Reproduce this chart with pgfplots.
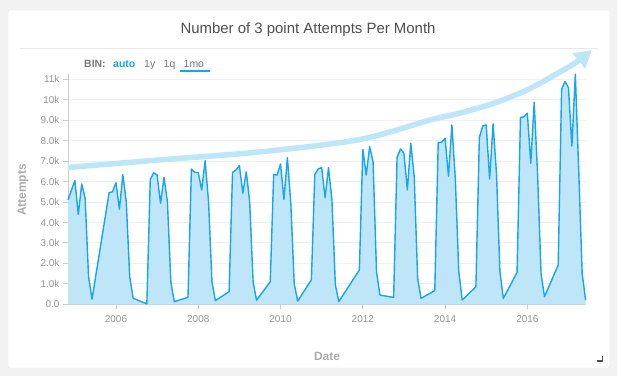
\documentclass[border=0pt]{standalone}
\usepackage{fontspec}
\setmainfont{Liberation Sans}
\usepackage{pgfplots}
\usepackage{pgfplotstable}
\pgfplotsset{compat=1.18}
\usetikzlibrary{arrows.meta}
\definecolor{bg}{HTML}{F2F2F2}
\definecolor{lineblue}{HTML}{17A5EC}
\definecolor{fillblue}{HTML}{BEE5F8}
\definecolor{arrowblue}{HTML}{BEE6F9}
\definecolor{ticklab}{HTML}{969696}
\definecolor{axgray}{HTML}{CCCCCC}
\definecolor{gridgray}{HTML}{F0F0F0}
\definecolor{titlegray}{HTML}{4F4F4F}
\definecolor{labgray}{HTML}{ABABAB}
\definecolor{bingray}{HTML}{7A7A7A}
\pgfplotstableread{
m v
58 5.10
59 5.58
60 6.05
61 4.40
62 5.88
63 5.18
64 1.35
65 0.25
70 5.46
71 5.50
72 5.95
73 4.65
74 6.34
75 5.00
76 1.35
77 0.30
81 0.02
82 6.10
83 6.43
84 6.32
85 4.94
86 6.20
87 5.02
88 1.10
89 0.13
93 0.34
94 6.62
95 6.45
96 6.44
97 5.59
98 7.02
99 5.02
100 1.10
101 0.18
105 0.62
106 6.45
107 6.57
108 6.78
109 5.43
110 6.48
111 5.02
112 1.10
113 0.20
117 1.10
118 6.35
119 6.32
120 6.86
121 5.13
122 7.17
123 4.94
124 0.99
125 0.16
129 1.19
130 6.35
131 6.62
132 6.68
133 5.21
134 6.68
135 5.10
136 0.94
137 0.13
143 1.68
144 7.57
145 6.32
146 7.71
147 6.97
148 1.60
149 0.45
153 0.34
154 7.19
155 7.60
156 7.38
157 5.59
158 7.87
159 6.24
160 1.27
161 0.29
165 0.67
166 7.90
167 7.92
168 8.12
169 6.27
170 8.77
171 6.10
172 1.60
173 0.21
177 0.86
178 8.15
179 8.72
180 8.77
181 6.13
182 8.82
183 6.40
184 1.60
185 0.29
189 1.56
190 9.13
191 9.17
192 9.34
193 6.89
194 9.88
195 6.32
196 1.50
197 0.37
201 1.92
202 10.53
203 10.89
204 10.59
205 7.74
206 11.25
207 6.50
208 1.50
209 0.21
}\datatable
\begin{document}
\begin{tikzpicture}[x=1bp,y=1bp]
% background and card
\fill[bg] (0,0) rectangle (617,376);
\filldraw[fill=white, draw=black!10, rounded corners=2bp] (8,8) rectangle (610,366);
\node[text=titlegray, font=\fontsize{15}{18}\selectfont] at (308,346) {Number of 3 point Attempts Per Month};
\draw[black!9, line width=1bp] (20,328) -- (598,328);
% BIN row
\node[anchor=base west, inner sep=0, text=bingray, font=\fontsize{10.5}{12}\selectfont\bfseries] at (84,308.5) {BIN:};
\node[anchor=base west, inner sep=0, text=lineblue, font=\fontsize{10.5}{12}\selectfont\bfseries] at (113,308.5) {auto};
\node[anchor=base west, inner sep=0, text=bingray, font=\fontsize{10.5}{12}\selectfont] at (144,308.5) {1y};
\node[anchor=base west, inner sep=0, text=bingray, font=\fontsize{10.5}{12}\selectfont] at (163.5,308.5) {1q};
\node[anchor=base west, inner sep=0, text=bingray, font=\fontsize{10.5}{12}\selectfont] at (183.5,308.5) {1mo};
\draw[lineblue, line width=1.6bp] (180,305.3) -- (210,305.3);
% axis labels
\node[rotate=90, text=labgray, font=\fontsize{12}{14}\selectfont\bfseries] at (23,186) {Attempts};
\node[text=labgray, font=\fontsize{12}{14}\selectfont\bfseries] at (327,20) {Date};
% resize mark
\draw[titlegray, line width=1.3bp] (597,15) -- (602.5,15) -- (602.5,20.5);
\begin{axis}[
  at={(68bp,71.7bp)}, anchor=south west,
  scale only axis, width=517.6bp, height=230.3bp,
  xmin=58, xmax=209, ymin=0, ymax=11.26,
  clip=false,
  axis x line*=bottom, axis y line*=left,
  axis line style={draw=axgray, line width=0.9bp},
  tick align=outside, major tick length=5bp,
  tick style={draw=axgray, line width=0.9bp},
  xtick={72,96,120,144,168,192},
  xticklabels={2006,2008,2010,2012,2014,2016},
  ytick={0,1,2,3,4,5,6,7,8,9,10,11},
  yticklabels={0.0,1.0k,2.0k,3.0k,4.0k,5.0k,6.0k,7.0k,8.0k,9.0k,10k,11k},
  ymajorgrids, grid style={draw=gridgray, line width=0.9bp},
  tick label style={text=ticklab, font=\fontsize{10}{12}\selectfont},
  xticklabel style={yshift=-3bp},
  /pgf/number format/assume math mode=true,
]
\addplot[draw=none, fill=fillblue] table[x=m,y=v] {\datatable} \closedcycle;
\addplot[lineblue, line width=1.4bp, line join=round] table[x=m,y=v] {\datatable};
\addplot[arrowblue, line width=5.5bp, smooth, -{Triangle[length=17bp,width=19bp]}] coordinates {
(58,6.69) (84.8,7.06) (114,7.45) (143.2,8.06) (163.6,9.01) (172.4,9.35) (182,9.82) (191.9,10.48) (201.5,11.36) (206.5,11.86) (210.8,12.43)};
\end{axis}
\end{tikzpicture}
\end{document}
